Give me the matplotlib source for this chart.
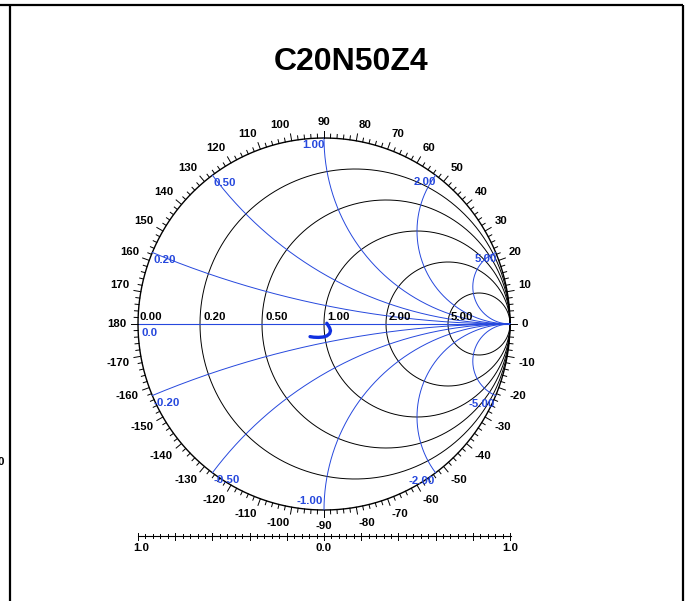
import numpy as np
import matplotlib
matplotlib.use("Agg")
import matplotlib.pyplot as plt

plt.rcParams["font.family"] = ["Liberation Sans", "DejaVu Sans"]

# ── data ────────────────────────────────────────────────────────────────────
TITLE = "C20N50Z4"
r_values = [0.2, 0.5, 1.0, 2.0, 5.0]          # constant resistance circles
x_values = [0.2, 0.5, 1.0, 2.0, 5.0]          # constant reactance arcs (+/-)
r_labels = ["0.20", "0.50", "1.00", "2.00", "5.00"]
x_pos_labels = ["0.20", "0.50", "1.00", "2.00", "5.00"]
x_neg_labels = ["-0.20", "-0.50", "-1.00", "-2.00", "-5.00"]
angle_ticks = list(range(-170, 181, 10))
scale_labels = ["1.0", "0.0", "1.0"]

# measured trace, reflection coefficient (re, im)
gamma_re = [-0.075, -0.055, -0.030, -0.005, 0.015, 0.030, 0.035, 0.030, 0.022, 0.015]
gamma_im = [-0.068, -0.071, -0.072, -0.070, -0.064, -0.052, -0.036, -0.020, -0.007, 0.004]

# ── geometry (pixels of the 686x601 canvas) ─────────────────────────────────
CX, CY, R = 324, 324, 186
BLUE = "#2648dd"
TXT = dict(fontsize=8.2, fontweight="bold")


def P(xp, yp):
    return (xp - CX) / R, (CY - yp) / R


def gamma(z):
    return (z - 1) / (z + 1)


fig = plt.figure(figsize=(6.86, 6.01), dpi=100)
ax = fig.add_axes([0, 0, 1, 1])
ax.set_xlim(P(0, 0)[0], P(686, 0)[0])
ax.set_ylim(P(0, 601)[1], P(0, 0)[1])
ax.axis("off")

# frame
for (x0, y0), (x1, y1) in [((0, 5), (683, 5)), ((10, 5), (10, 601)), ((683, 5), (683, 601))]:
    a, b = P(x0, y0), P(x1, y1)
    ax.plot([a[0], b[0]], [a[1], b[1]], color="black", lw=1.6, clip_on=False,
            solid_capstyle="butt")

# outer circle
t = np.linspace(0, 2 * np.pi, 720)
ax.plot(np.cos(t), np.sin(t), color="black", lw=1.0)

# resistance circles
xs = np.tan(np.linspace(-np.pi / 2 * 0.9999, np.pi / 2 * 0.9999, 3000))
for r in r_values:
    g = gamma(r + 1j * xs)
    ax.plot(g.real, g.imag, color="black", lw=0.7)

# reactance arcs
rs = np.tan(np.linspace(0, np.pi / 2 * 0.9999, 3000))
for x in x_values:
    for s in (1, -1):
        g = gamma(rs + 1j * s * x)
        ax.plot(g.real, g.imag, color=BLUE, lw=0.7)
ax.plot([-1, 1], [0, 0], color=BLUE, lw=0.8)

# angle ticks and labels
for d in range(-180, 180, 2):
    a = np.radians(d)
    ln = 7 if d % 10 == 0 else 4
    ax.plot([np.cos(a), np.cos(a) * (1 + ln / R)], [np.sin(a), np.sin(a) * (1 + ln / R)],
            color="black", lw=0.7)
for d in angle_ticks:
    a = np.radians(d)
    c, s = np.cos(a), np.sin(a)
    rr = 1 + 11 / R
    ha = "left" if c > 1e-6 else ("right" if c < -1e-6 else "center")
    va = "bottom" if s > 1e-6 else ("top" if s < -1e-6 else "center")
    ax.text(rr * c, rr * s, str(d), ha=ha, va=va, **TXT)

# resistance labels on the real axis
ax.text(-1 + 1 / R, 2 / R, "0.00", ha="left", va="bottom", **TXT)
ax.text(-1 + 4 / R, -4 / R, "0.0", ha="left", va="top", color=BLUE, **TXT)
for r, lab in zip(r_values, r_labels):
    g = gamma(r)
    ax.text(g + 3 / R, 2 / R, lab, ha="left", va="bottom", **TXT)

# reactance labels at the rim
for x, lab in zip(x_values, x_pos_labels):
    g = gamma(1j * x)
    if x < 1:
        ax.text(g.real + 1 / R, g.imag - 3 / R, lab, ha="left", va="top", color=BLUE, **TXT)
    else:
        ax.text(g.real + 1 / R, g.imag - 2 / R, lab, ha="right", va="top", color=BLUE, **TXT)
for x, lab in zip(x_values, x_neg_labels):
    g = gamma(-1j * x)
    if x < 1:
        ax.text(g.real + 1 / R, g.imag - 2 / R, lab, ha="left", va="top", color=BLUE, **TXT)
    elif x == 1:
        ax.text(g.real - 1 / R, g.imag + 4 / R, lab, ha="right", va="bottom", color=BLUE, **TXT)
    else:
        ax.text(g.real - 1 / R, g.imag - 3 / R, lab, ha="right", va="top", color=BLUE, **TXT)

# measured trace
ax.plot(gamma_re, gamma_im, color="#1030e0", lw=2.4, solid_capstyle="round")

# bottom ruler
ry = P(0, 536)[1]
ax.plot([-1, 1.005], [ry, ry], color="black", lw=0.8)
for i, v in enumerate(np.linspace(-1, 1, 51)):
    h = 3.5 if i % 5 == 0 else 2
    ax.plot([v, v], [ry - h / R, ry + h / R], color="black", lw=0.7)
for v, lab in zip([-0.98, 0.0, 1.0], scale_labels):
    ax.text(v, P(0, 548)[1], lab, ha="center", va="center", **TXT)

# cut-off label at the left edge (partly outside the canvas, as in the source)
ax.text(P(4, 0)[0], P(0, 462)[1], "0", ha="right", va="center", clip_on=False, **TXT)

fig.text(351 / 686, 1 - 62 / 601, TITLE, ha="center", va="center",
         fontsize=23, fontweight="bold")

fig.savefig("out.png", dpi=100)
